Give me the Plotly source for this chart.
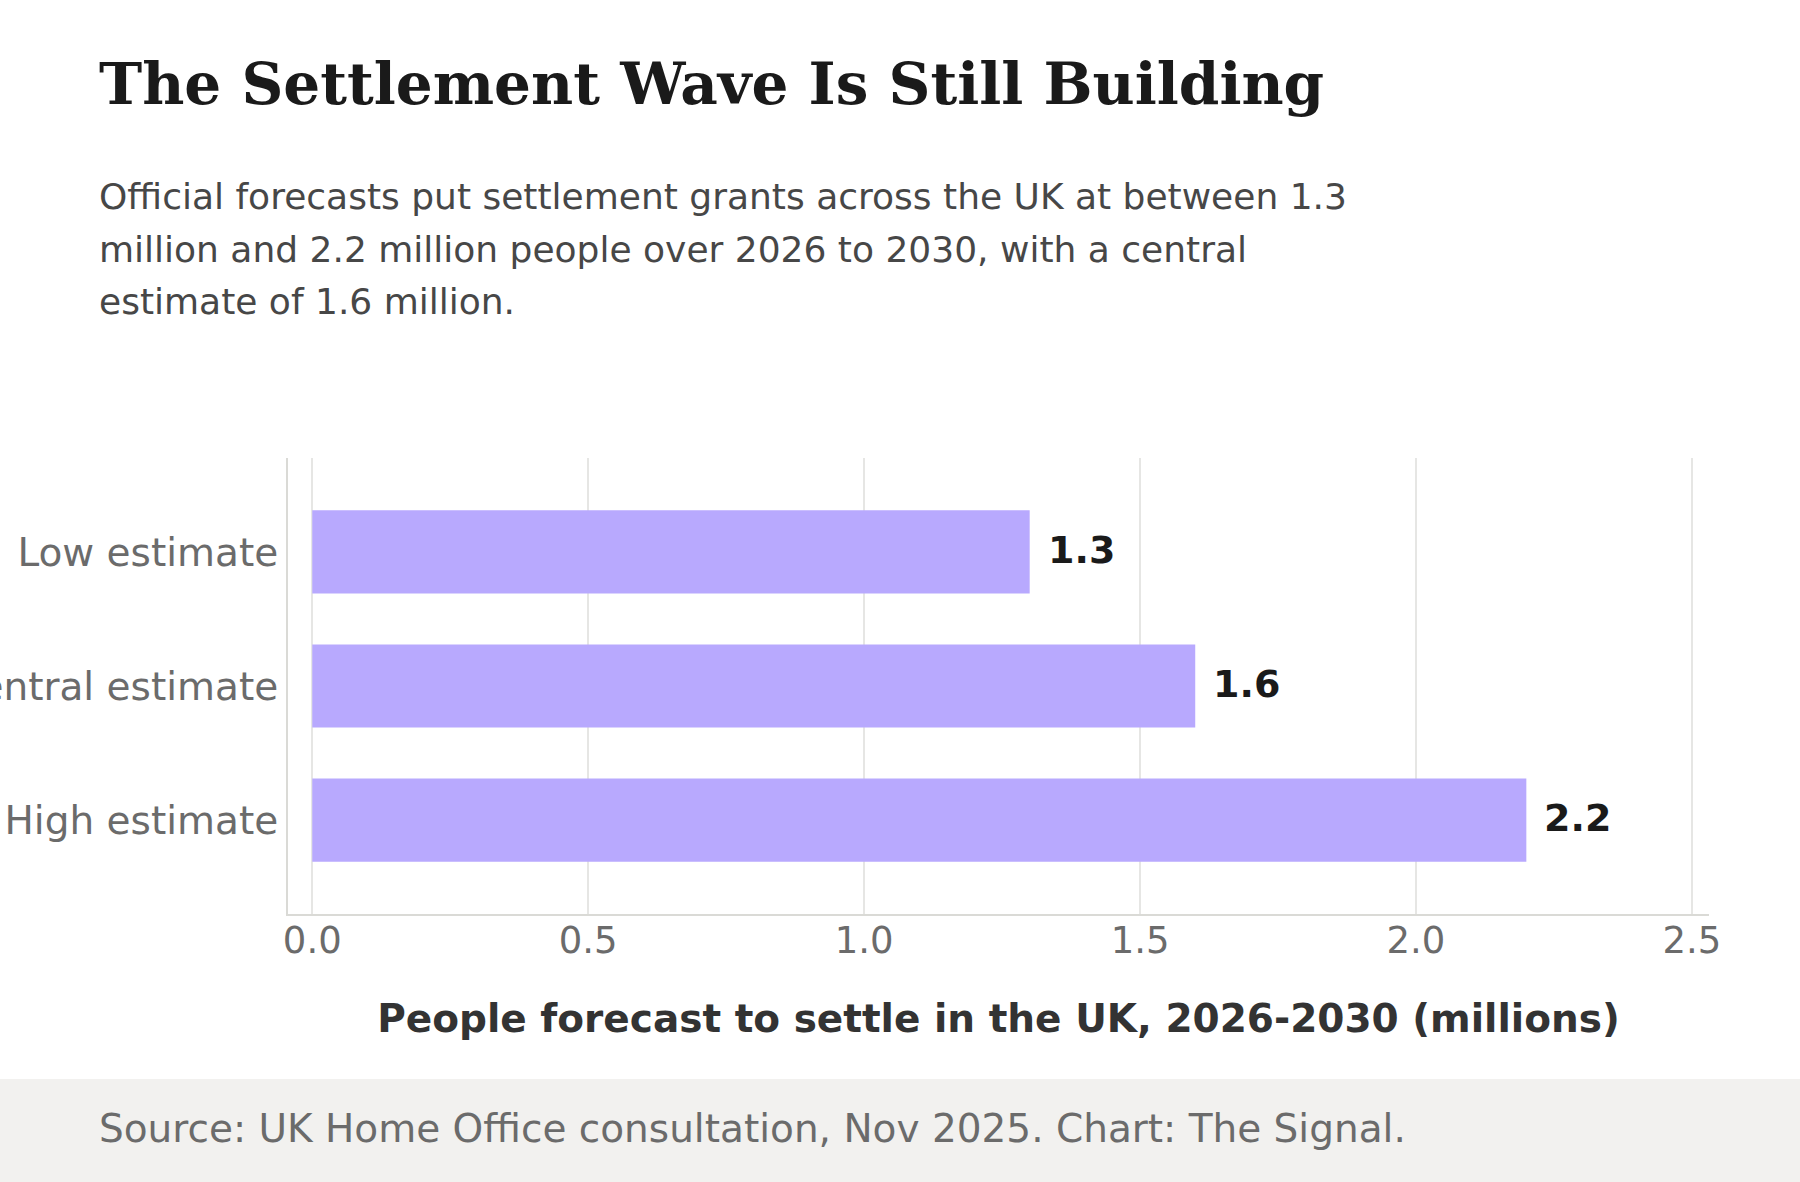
import plotly.graph_objects as go

categories = ["Low estimate", "Central estimate", "High estimate"]
values = [1.3, 1.6, 2.2]
value_labels = ["1.3", "1.6", "2.2"]
x_ticks = [0.0, 0.5, 1.0, 1.5, 2.0, 2.5]
x_tick_labels = ["0.0", "0.5", "1.0", "1.5", "2.0", "2.5"]

title_text = "The Settlement Wave Is Still Building"
subtitle_lines = [
    "Official forecasts put settlement grants across the UK at between 1.3",
    "million and 2.2 million people over 2026 to 2030, with a central",
    "estimate of 1.6 million.",
]
axis_title = "People forecast to settle in the UK, 2026-2030 (millions)"
source_text = "Source: UK Home Office consultation, Nov 2025. Chart: The Signal."

W, H = 1800, 1182
ML, MR, MT, MB = 288, 91, 458, 268
PW, PH = W - ML - MR, H - MT - MB


def px_x(px):
    return (px - ML) / PW


def px_y(py):
    return (H - MB - py) / PH


SANS = "DejaVu Sans"

fig = go.Figure()
fig.add_trace(
    go.Bar(
        x=values,
        y=categories,
        orientation="h",
        width=0.62,
        marker=dict(color="#b8a9fe", line=dict(width=0)),
        hoverinfo="skip",
    )
)

annotations = []
for c, v, lab in zip(categories, values, value_labels):
    annotations.append(
        dict(
            x=v, y=c, xref="x", yref="y", text="<b>" + lab + "</b>",
            showarrow=False, xanchor="left", yanchor="middle", xshift=16, yshift=2,
            font=dict(family=SANS, size=38, color="#1a1a1a"),
        )
    )

annotations.append(
    dict(
        x=px_x(97), y=px_y(48), xref="paper", yref="paper",
        text="<b>" + title_text + "</b>", showarrow=False,
        xanchor="left", yanchor="top",
        font=dict(family="DejaVu Serif", size=58, color="#1a1a1a"),
    )
)
for i, line in enumerate(subtitle_lines):
    annotations.append(
        dict(
            x=px_x(97), y=px_y(174 + i * 52.5), xref="paper", yref="paper",
            text=line, showarrow=False, xanchor="left", yanchor="top",
            font=dict(family=SANS, size=36, color="#474747"),
        )
    )
annotations.append(
    dict(
        x=px_x(97), y=px_y(1128), xref="paper", yref="paper",
        text=source_text, showarrow=False, xanchor="left", yanchor="middle",
        font=dict(family=SANS, size=39, color="#6b6b6b"),
    )
)

shapes = [
    dict(
        type="rect", xref="paper", yref="paper",
        x0=px_x(-10), x1=px_x(W + 10), y0=px_y(H + 10), y1=px_y(1079),
        fillcolor="#f2f1ef", line=dict(width=0), layer="below",
    )
]

fig.update_layout(
    width=W,
    height=H,
    margin=dict(l=ML, r=MR, t=MT, b=MB, autoexpand=False),
    paper_bgcolor="#ffffff",
    plot_bgcolor="#ffffff",
    showlegend=False,
    annotations=annotations,
    shapes=shapes,
    font=dict(family=SANS),
    xaxis=dict(
        range=[-0.044, 2.531],
        tickvals=x_ticks,
        ticktext=x_tick_labels,
        showgrid=True,
        gridcolor="#e6e6e4",
        gridwidth=2,
        zeroline=False,
        showline=True,
        linecolor="#dadad6",
        linewidth=2,
        ticks="",
        ticklabelstandoff=-7,
        tickfont=dict(family=SANS, size=37, color="#6b6b6b"),
        title=dict(
            text="<b>" + axis_title + "</b>",
            font=dict(family=SANS, size=39, color="#333333"),
            standoff=43,
        ),
    ),
    yaxis=dict(
        range=[2.7, -0.7],
        showgrid=False,
        zeroline=False,
        showline=True,
        linecolor="#dadad6",
        linewidth=2,
        ticks="",
        tickfont=dict(family=SANS, size=39, color="#6b6b6b"),
    ),
)

fig.write_html(
    "out.html",
    config={"displayModeBar": False},
    post_script="document.body.style.margin='0';document.body.style.padding='0';",
)
